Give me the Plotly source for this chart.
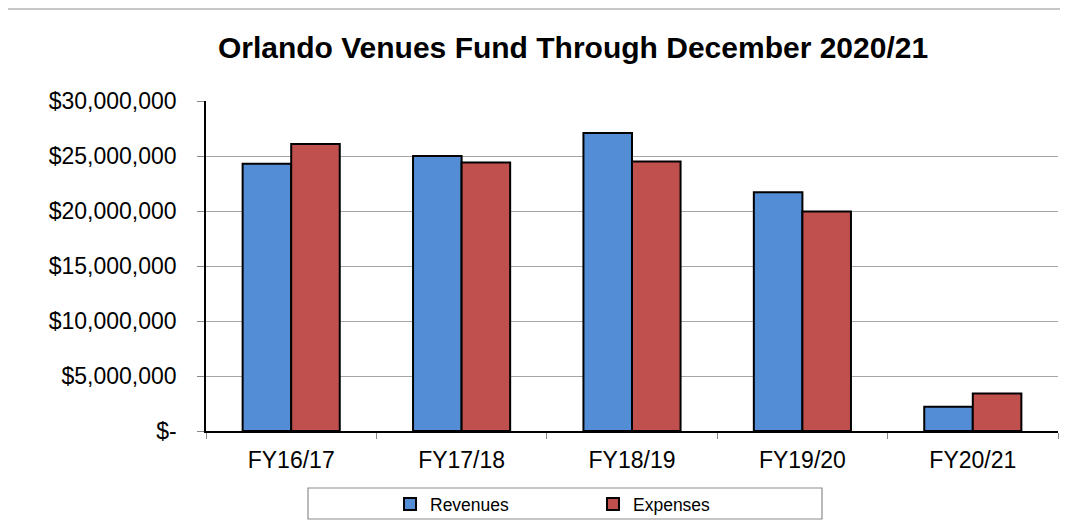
import plotly.graph_objects as go

categories = ["FY16/17", "FY17/18", "FY18/19", "FY19/20", "FY20/21"]
revenues = [24300000, 25000000, 27100000, 21700000, 2200000]
expenses = [26100000, 24400000, 24500000, 19950000, 3400000]
y_tick_values = [0, 5000000, 10000000, 15000000, 20000000, 25000000, 30000000]
y_tick_labels = ["$-", "$5,000,000", "$10,000,000", "$15,000,000",
                 "$20,000,000", "$25,000,000", "$30,000,000"]
title_text = "Orlando Venues Fund Through December 2020/21"

OFF = 8  # page body margin offset
W, H = 1068 - OFF, 529 - OFF
L, R, T, B = 206 - OFF, 1058 - OFF, 101 - OFF, 431 - OFF  # plot area pixel bounds
FONT = "Arial, Liberation Sans, sans-serif"


def px_x(p):
    return (p - OFF - L) / (R - L)


def px_y(p):
    return (B - (p - OFF)) / (B - T)


def cx(p):
    return (p - OFF) / W


def cy(p):
    return 1 - (p - OFF) / H


fig = go.Figure()
fig.add_trace(go.Bar(
    x=categories, y=revenues, name="Revenues",
    marker=dict(color="#538DD5", line=dict(color="#000000", width=2)),
))
fig.add_trace(go.Bar(
    x=categories, y=expenses, name="Expenses",
    marker=dict(color="#C0504D", line=dict(color="#000000", width=2)),
))

fig.update_layout(
    width=W, height=H,
    margin=dict(l=L, r=W - R, t=T, b=H - B, pad=0, autoexpand=False),
    paper_bgcolor="white", plot_bgcolor="white",
    barmode="group", bargap=0.43, bargroupgap=0,
    font=dict(family=FONT, color="#000000"),
    title=dict(text="<b>" + title_text + "</b>", x=cx(573), xanchor="center",
               y=cy(47.5), yanchor="middle", xref="container", yref="container",
               font=dict(size=30, family=FONT, color="#000000")),
    showlegend=True,
    legend=dict(orientation="h", xref="container", yref="container",
                x=cx(390), xanchor="left", y=cy(504), yanchor="middle",
                font=dict(size=17.5, family=FONT), bgcolor="rgba(0,0,0,0)",
                borderwidth=0, entrywidth=158, entrywidthmode="pixels",
                traceorder="normal"),
    xaxis=dict(
        range=[-0.5, 4.5], showline=True, linecolor="#000000", linewidth=1.5,
        ticks="outside", tickson="boundaries", ticklen=6, tickcolor="#888888",
        showgrid=False, tickfont=dict(size=23, family=FONT), fixedrange=True,
        ticklabelstandoff=8, automargin=False,
    ),
    yaxis=dict(
        range=[0, 30000000], tickvals=y_tick_values, ticktext=y_tick_labels,
        showline=True, linecolor="#000000", linewidth=1.5,
        ticks="outside", ticklen=7, tickcolor="#888888",
        showgrid=True, gridcolor="#A6A6A6", gridwidth=1, zeroline=False,
        tickfont=dict(size=23, family=FONT), fixedrange=True,
        ticklabelstandoff=16, automargin=False,
    ),
    shapes=[
        dict(type="rect", xref="paper", yref="paper",
             x0=px_x(6), x1=px_x(1075), y0=px_y(540), y1=px_y(9),
             line=dict(color="#B4B4B4", width=1.5), fillcolor="rgba(0,0,0,0)",
             layer="below"),
        dict(type="rect", xref="paper", yref="paper",
             x0=px_x(308), x1=px_x(822), y0=px_y(519), y1=px_y(488),
             line=dict(color="#8C8C8C", width=1.2), fillcolor="white",
             layer="below"),
    ],
)

fig.write_html("out.html")
